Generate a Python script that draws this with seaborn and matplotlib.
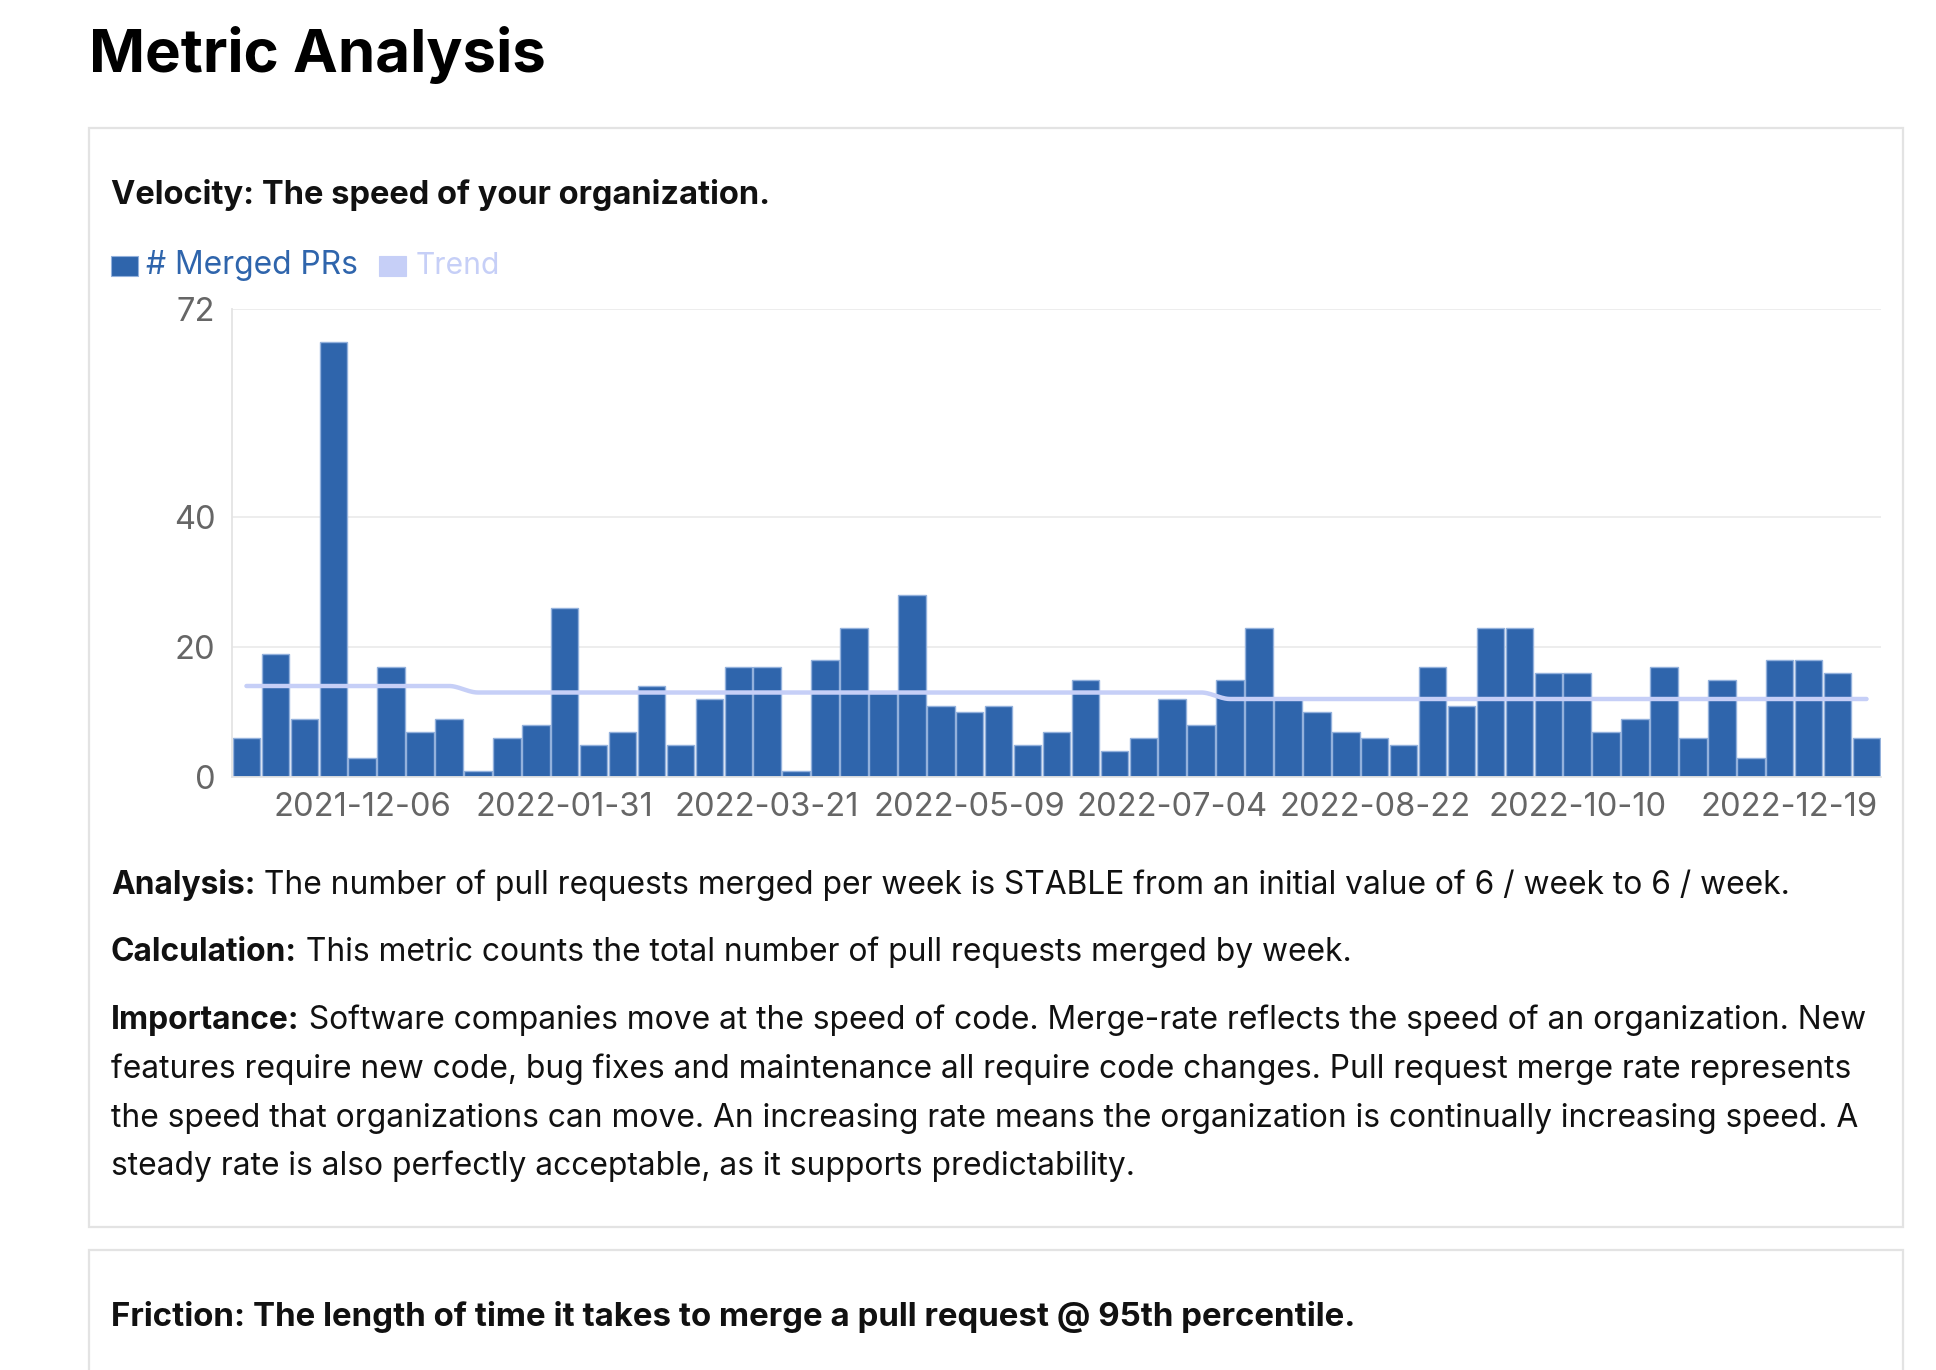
import numpy as np
import pandas as pd
import matplotlib
matplotlib.use("Agg")
import matplotlib.pyplot as plt
from matplotlib.patches import Rectangle
from matplotlib.transforms import offset_copy
import seaborn as sns

# ---------------- data ----------------
week_labels = [
    "2021-11-08", "2021-11-15", "2021-11-22", "2021-11-29", "2021-12-06",
    "2021-12-13", "2021-12-20", "2022-01-03", "2022-01-10", "2022-01-17",
    "2022-01-24", "2022-01-31", "2022-02-07", "2022-02-14", "2022-02-21",
    "2022-02-28", "2022-03-07", "2022-03-14", "2022-03-21", "2022-03-28",
    "2022-04-04", "2022-04-11", "2022-04-18", "2022-04-25", "2022-05-02",
    "2022-05-09", "2022-05-16", "2022-05-23", "2022-05-30", "2022-06-06",
    "2022-06-13", "2022-06-20", "2022-07-04", "2022-07-11", "2022-07-18",
    "2022-07-25", "2022-08-01", "2022-08-08", "2022-08-15", "2022-08-22",
    "2022-08-29", "2022-09-05", "2022-09-12", "2022-09-19", "2022-09-26",
    "2022-10-03", "2022-10-10", "2022-10-24", "2022-10-31", "2022-11-07",
    "2022-11-14", "2022-11-28", "2022-12-05", "2022-12-19", "2022-12-26",
    "2023-01-02", "2023-01-09",
]
merged_prs = [6, 19, 9, 67, 3, 17, 7, 9, 1, 6, 8, 26, 5, 7, 14, 5, 12, 17, 17, 1,
              18, 23, 13, 28, 11, 10, 11, 5, 7, 15, 4, 6, 12, 8, 15, 23, 12, 10, 7, 6,
              5, 17, 11, 23, 23, 16, 16, 7, 9, 17, 6, 15, 3, 18, 18, 16, 6]
trend = [14, 14, 14, 14, 14, 14, 14, 14, 13, 13, 13, 13, 13, 13, 13, 13, 13, 13, 13, 13,
         13, 13, 13, 13, 13, 13, 13, 13, 13, 13, 13, 13, 13, 13, 12, 12, 12, 12, 12, 12,
         12, 12, 12, 12, 12, 12, 12, 12, 12, 12, 12, 12, 12, 12, 12, 12, 12]
shown_week_labels = ["2021-12-06", "2022-01-31", "2022-03-21", "2022-05-09",
                     "2022-07-04", "2022-08-22", "2022-10-10", "2022-12-19"]
y_ticks = [0, 20, 40, 72]

page_title = "Metric Analysis"
card_title = "Velocity: The speed of your organization."
series_names = ["# Merged PRs", "Trend"]
analysis = ("Analysis:", " The number of pull requests merged per week is STABLE from an initial value of 6 / week to 6 / week.")
calculation = ("Calculation:", " This metric counts the total number of pull requests merged by week.")
importance_head = "Importance:"
importance_lines = [
    " Software companies move at the speed of code. Merge-rate reflects the speed of an organization. New",
    "features require new code, bug fixes and maintenance all require code changes. Pull request merge rate represents",
    "the speed that organizations can move. An increasing rate means the organization is continually increasing speed. A",
    "steady rate is also perfectly acceptable, as it supports predictability.",
]
next_card_title = "Friction: The length of time it takes to merge a pull request @ 95th percentile."

# ---------------- style ----------------
W, H, DPI = 1936, 1370, 100
BAR = "#2f65ac"
EDGE = "#93b1dc"
TREND = "#c6cff7"
TICK = "#666666"
GRID = "#ececec"
CARD = "#e3e3e3"
TEXT = "#111111"

sns.set_theme(style="white")
plt.rcParams['font.family'] = ['Inter', 'Roboto', 'DejaVu Sans']

fig = plt.figure(figsize=(W / DPI, H / DPI), dpi=DPI)
fig.patch.set_facecolor("white")
renderer = fig.canvas.get_renderer()


def fx(x):
    return x / W


def fy(y):
    return 1 - y / H


def put(x, y, s, **kw):
    return fig.text(fx(x), fy(y), s, ha="left", va="baseline", **kw)


def wpx(t):
    return t.get_window_extent(renderer).width


def fit(t, target):
    for _ in range(3):
        t.set_fontsize(t.get_fontsize() * target / wpx(t))


CARD_R = 1903
# cards
fig.patches.append(Rectangle((fx(89), fy(1227)), (CARD_R - 89) / W, (1227 - 128) / H,
                             transform=fig.transFigure, fill=False, edgecolor=CARD, lw=1.6))
fig.patches.append(Rectangle((fx(89), fy(1400)), (CARD_R - 89) / W, (1400 - 1250) / H,
                             transform=fig.transFigure, fill=False, edgecolor=CARD, lw=1.6))

# page title
t = put(89, 72, page_title, fontsize=45, fontweight="bold", color="black")
fit(t, 457)

# card title
t = put(111, 204, card_title, fontsize=21, fontweight="bold", color=TEXT)
fit(t, 659)

# legend
fig.patches.append(Rectangle((fx(111), fy(276)), 27 / W, 20 / H, transform=fig.transFigure,
                             facecolor=BAR, edgecolor=EDGE, lw=0.8))
t = put(146, 274, series_names[0], fontsize=19, color=BAR)
fit(t, 212)
fig.patches.append(Rectangle((fx(379), fy(276)), 27 / W, 20 / H, transform=fig.transFigure,
                             facecolor=TREND, edgecolor=TREND, lw=0.8))
t = put(416, 274, series_names[1], fontsize=19, color=TREND)
fit(t, 84)

# ---------------- chart ----------------
ax = fig.add_axes([fx(232), fy(777), (1881 - 232) / W, (777 - 309) / H])
df = pd.DataFrame({"idx": np.arange(len(merged_prs)), "week": week_labels, "prs": merged_prs})
sns.barplot(data=df, x="idx", y="prs", native_scale=True, width=0.95, color=BAR,
            saturation=1, edgecolor=EDGE, linewidth=1.0, errorbar=None, ax=ax, zorder=2)

# smooth trend line (rendering of the step between trend points)
tx, ty = [], []
for i in range(len(trend) - 1):
    tt = np.linspace(0, 1, 24, endpoint=False)
    ss = 3 * tt ** 2 - 2 * tt ** 3
    tx.extend(i + tt)
    ty.extend(trend[i] + (trend[i + 1] - trend[i]) * ss)
tx.append(len(trend) - 1)
ty.append(trend[-1])
sns.lineplot(x=tx, y=ty, ax=ax, color=TREND, linewidth=3.2, sort=False, estimator=None,
             zorder=3)

ax.set_xlim(-0.5, len(merged_prs) - 0.5)
ax.set_ylim(0, max(y_ticks))
ax.set_yticks(y_ticks)
ax.set_yticklabels([str(v) for v in y_ticks])
pos = [week_labels.index(s) for s in shown_week_labels]
ax.set_xticks(pos)
ax.set_xticklabels(shown_week_labels)
ax.set_xlabel("")
ax.set_ylabel("")
ax.grid(axis="y", color=GRID, lw=1.3, zorder=0)
ax.grid(axis="x", visible=False)
ax.set_axisbelow(True)
for side in ["top", "right"]:
    ax.spines[side].set_visible(False)
for side in ["left", "bottom"]:
    ax.spines[side].set_color("#e4e4e4")
    ax.spines[side].set_linewidth(1.3)
ax.tick_params(axis="both", length=0, colors=TICK, labelsize=23.5)
ax.tick_params(axis="y", pad=12)
ax.tick_params(axis="x", pad=11)
ax.set_facecolor("white")
# last label sits slightly to the right, as in the original chart
last = ax.get_xticklabels()[-1]
last.set_transform(offset_copy(last.get_transform(), fig=fig, x=9, y=0, units="dots"))

# ---------------- paragraphs ----------------
BODY = 20
head = put(111, 894, analysis[0], fontsize=BODY, fontweight="bold", color=TEXT)
rest = put(111 + wpx(head), 894, analysis[1], fontsize=BODY, color=TEXT)
total = wpx(head) + wpx(rest)
BODY = BODY * 1680 / total
head.set_fontsize(BODY)
rest.set_fontsize(BODY)
rest.set_x(fx(111 + wpx(head)))


def para(y, bold, normal):
    h = put(111, y, bold, fontsize=BODY, fontweight="bold", color=TEXT)
    put(111 + wpx(h), y, normal, fontsize=BODY, color=TEXT)


para(961, calculation[0], calculation[1])
ys = [1029, 1078, 1127, 1175]
para(ys[0], importance_head, importance_lines[0])
for y, line in zip(ys[1:], importance_lines[1:]):
    put(111, y, line, fontsize=BODY, color=TEXT)

t = put(111, 1326, next_card_title, fontsize=BODY, fontweight="bold", color=TEXT)
fit(t, 1247)

fig.savefig("out.png", dpi=DPI, facecolor="white")
